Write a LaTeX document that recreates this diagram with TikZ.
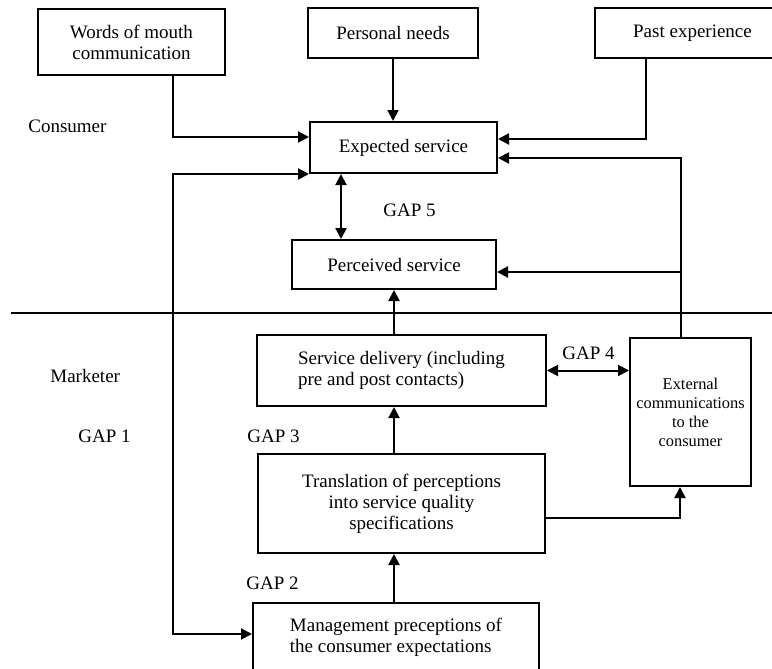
\documentclass[tikz,border=0pt]{standalone}
\usepackage{fontspec}
\setmainfont{Liberation Serif}
\usetikzlibrary{arrows.meta}
\newcommand\boxfont{\fontsize{9.5}{10.5}\selectfont}
\newcommand\smallboxfont{\fontsize{8.2}{9.5}\selectfont}
\tikzstyle{block} = [rectangle, draw=black, line width=1pt, align=center, inner sep=2pt, font=\boxfont]
\tikzstyle{gaptext} = [anchor=west, inner sep=0pt, font=\boxfont]
\tikzstyle{arrow} = [line width=1pt, -{Triangle[length=5.5pt,width=5.5pt]}]
\tikzstyle{dblarrow} = [line width=1pt, {Triangle[length=5.5pt,width=5.5pt]}-{Triangle[length=5.5pt,width=5.5pt]}]

\begin{document}
\begin{tikzpicture}[x=0.5pt, y=-0.5pt]
	\useasboundingbox (0,0) rectangle (772,669);
	\node (wom) [block, minimum width=93.5pt, minimum height=33pt] at (131.5,42) {Words of mouth\\communication};
	\node (needs) [block, minimum width=85pt, minimum height=25pt] at (393,33) {Personal needs};
	\node (past) [block, minimum width=97.5pt, minimum height=25pt] at (692.5,33) {Past experience};
	\node (expected) [block, minimum width=93.5pt, minimum height=25.5pt] at (403.5,147.5) {Expected service};
	\node (perceived) [block, minimum width=102pt, minimum height=24.5pt] at (394,264.5) {Perceived service};
	\node (delivery) [block, align=left, minimum width=144.5pt, minimum height=35.5pt] at (401.5,370.5) {Service delivery (including\\pre and post contacts)};
	\node (translation) [block, minimum width=143.5pt, minimum height=49.5pt] at (401.5,503.5) {Translation of perceptions\\into service quality\\specifications};
	\node (management) [block, align=left, minimum width=143pt, minimum height=34.5pt] at (396,637.5) {Management preceptions of\\the consumer expectations};
	\node (external) [block, font=\smallboxfont, minimum width=60.5pt, minimum height=74pt] at (690.5,412) {External\\communications\\to the\\consumer};

	\node (consumer) [gaptext] at (28,126) {Consumer};
	\node (marketer) [gaptext] at (50,376) {Marketer};
	\node (gapone) [gaptext] at (78,436) {GAP 1};
	\node (gaptwo) [gaptext] at (246,583) {GAP 2};
	\node (gapthree) [gaptext] at (247,436) {GAP 3};
	\node (gapfour) [gaptext] at (562,353) {GAP 4};
	\node (gapfive) [gaptext] at (383,210) {GAP 5};

	\coordinate (divl) at (11,313);
	\coordinate (divr) at (772,313);
	\coordinate (womturn) at (173,137);
	\coordinate (pastturn) at (646,139);
	\coordinate (extturn) at (681,158);
	\coordinate (percjoin) at (681,272);
	\coordinate (gaponebot) at (173,634);
	\coordinate (gapfivex) at (341,200);
	\coordinate (transout) at (680,518);

	\draw [line width=1pt] (divl) -- (divr);
	\draw [arrow] (wom.south -| womturn) |- (womturn -| expected.west);
	\draw [arrow] (needs.south) -- (needs.south |- expected.north);
	\draw [arrow] (past.south -| pastturn) |- (expected.east |- pastturn);
	\draw [arrow] (external.north -| extturn) |- (expected.east |- extturn);
	\draw [arrow] (percjoin) -- (perceived.east |- percjoin);
	\draw [dblarrow] (expected.south west) -| (gaponebot) -- (management.west |- gaponebot);
	\draw [dblarrow] (expected.south -| gapfivex) -- (perceived.north -| gapfivex);
	\draw [arrow] (delivery.north -| perceived.south) -- (perceived.south);
	\draw [arrow] (translation.north -| perceived.south) -- (delivery.south -| perceived.south);
	\draw [arrow] (management.north -| perceived.south) -- (translation.south -| perceived.south);
	\draw [dblarrow] (delivery.east) -- (external.west |- delivery.east);
	\draw [arrow] (translation.east |- transout) -| (external.south -| transout);
	
\end{tikzpicture}
\end{document}
